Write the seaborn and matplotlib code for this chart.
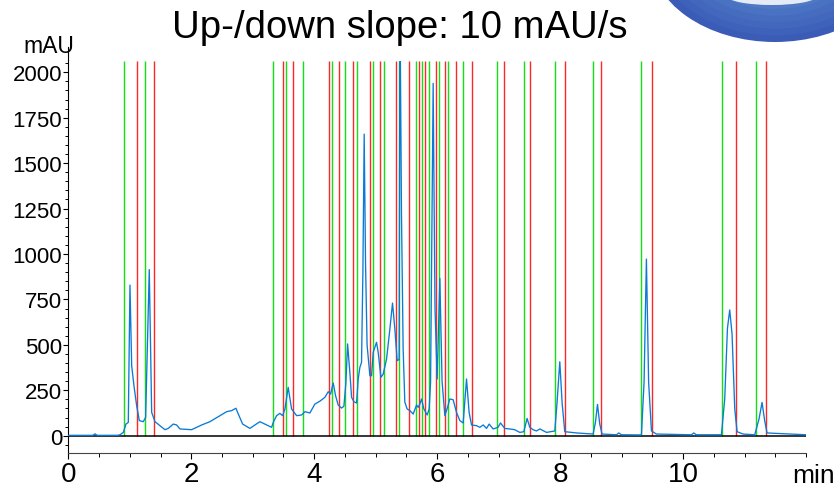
import numpy as np
import pandas as pd
import matplotlib
matplotlib.use("Agg")
import matplotlib.pyplot as plt
import seaborn as sns
from matplotlib.ticker import MultipleLocator
from matplotlib.patches import Ellipse
from matplotlib.colors import to_rgb

# Chromatogram trace: retention time (min) and detector signal (mAU)
time_min = [
    0.00, 0.40, 0.434, 0.47, 0.80, 0.841, 0.895, 0.938, 0.976, 1.003,
    1.031, 1.068, 1.112, 1.155, 1.22, 1.258, 1.317, 1.356, 1.41, 1.491,
    1.572, 1.626, 1.707, 1.762, 1.816, 2.006, 2.088, 2.17, 2.304, 2.467,
    2.575, 2.657, 2.727, 2.764, 2.836, 2.954, 3.036, 3.117, 3.198, 3.307,
    3.334, 3.388, 3.442, 3.486, 3.524, 3.577, 3.632, 3.714, 3.795, 3.849,
    3.930, 4.011, 4.093, 4.174, 4.228, 4.267, 4.309, 4.348, 4.39, 4.445,
    4.483, 4.516, 4.543, 4.58, 4.608, 4.646, 4.689, 4.716, 4.743, 4.77,
    4.792, 4.813, 4.835, 4.86, 4.906, 4.933, 4.96, 5.014, 5.041, 5.085,
    5.122, 5.177, 5.231, 5.274, 5.312, 5.35, 5.382, 5.395, 5.42, 5.447,
    5.474, 5.512, 5.556, 5.61, 5.665, 5.691, 5.719, 5.746, 5.784, 5.838,
    5.87, 5.893, 5.935, 5.965, 6.0, 6.044, 6.08, 6.125, 6.169, 6.206,
    6.26, 6.315, 6.369, 6.423, 6.478, 6.52, 6.559, 6.64, 6.695, 6.749,
    6.803, 6.846, 6.911, 6.99, 7.03, 7.1, 7.18, 7.26, 7.345, 7.41,
    7.463, 7.507, 7.56, 7.616, 7.67, 7.78, 7.914, 7.95, 7.995, 8.033,
    8.076, 8.27, 8.537, 8.575, 8.608, 8.645, 8.683, 8.917, 8.955, 8.998,
    9.323, 9.366, 9.404, 9.44, 9.486, 9.567, 10.136, 10.174, 10.217, 10.624,
    10.678, 10.722, 10.759, 10.797, 10.841, 10.879, 10.976, 11.166, 11.236, 11.285,
    11.328, 11.366, 12.0,
]
signal_mau = [
    2, 2, 10, 2, 2, 5, 18, 64, 73, 829,
    385, 275, 165, 83, 77, 101, 914, 128, 77, 55,
    33, 40, 64, 59, 37, 33, 46, 59, 77, 110,
    132, 138, 151, 120, 64, 40, 59, 77, 64, 46,
    73, 110, 123, 110, 147, 266, 147, 110, 114, 132,
    125, 174, 190, 211, 242, 229, 290, 220, 169, 152,
    162, 294, 505, 349, 211, 187, 180, 312, 376, 404,
    900, 1660, 950, 500, 330, 330, 459, 514, 459, 321,
    339, 422, 587, 730, 587, 413, 420, 2400, 1211, 477,
    185, 147, 138, 119, 169, 156, 174, 202, 147, 114,
    147, 294, 1939, 700, 312, 866, 300, 110, 156, 202,
    198, 128, 83, 70, 312, 128, 59, 55, 46, 59,
    40, 64, 37, 46, 70, 40, 37, 33, 18, 22,
    95, 46, 33, 26, 37, 18, 26, 180, 407, 180,
    22, 15, 9, 73, 172, 64, 9, 5, 15, 5,
    4, 295, 972, 295, 26, 9, 5, 15, 5, 5,
    202, 590, 692, 560, 147, 22, 9, 5, 92, 183,
    82, 15, 5,
]

# Integration events: peak start (up slope) and peak end (down slope)
peak_start = [0.907, 1.252, 3.323, 3.545, 3.821, 4.293, 4.494, 4.699, 4.959, 5.128,
              5.382, 5.649, 5.757, 5.865, 6.033, 6.179, 6.418, 6.966, 7.415, 7.925,
              8.537, 9.317, 10.64, 11.187]
peak_end = [1.112, 1.393, 3.491, 3.659, 4.234, 4.397, 4.634, 4.900, 5.073, 5.323,
            5.54, 5.702, 5.805, 5.979, 6.12, 6.304, 6.56, 7.09, 7.507, 8.072,
            8.667, 9.496, 10.857, 11.356]

y_ticks = [0, 250, 500, 750, 1000, 1250, 1500, 1750, 2000]
x_ticks = [0, 2, 4, 6, 8, 10]

title = "Up-/down slope: 10 mAU/s"
y_unit = "mAU"
x_unit = "min"

sns.set_style("white")
plt.rcParams["font.family"] = ["Liberation Sans", "DejaVu Sans"]
plt.rcParams["text.color"] = "black"

W, H = 834, 489
fig = plt.figure(figsize=(W / 100, H / 100), dpi=100)
ax = fig.add_axes([68.3 / W, 1 - 454.3 / H, (806 - 68.3) / W, (454.3 - 61.7) / H])

y_top = 2064
ax.set_xlim(0, 12)
ax.set_ylim(-97, y_top)

# event markers
ax.vlines(peak_start, 0, y_top, colors="#12e012", linewidth=1.0, zorder=2)
ax.vlines(peak_end, 0, y_top, colors="#ff2626", linewidth=1.0, zorder=2)
ax.axhline(0, color="black", linewidth=1.1, zorder=2.5)

df = pd.DataFrame({"time": time_min, "mAU": signal_mau})
sns.lineplot(data=df, x="time", y="mAU", ax=ax, color="#0a7ad6",
             linewidth=0.95, estimator=None, sort=False, zorder=3)
ax.set_xlabel("")
ax.set_ylabel("")

for side in ("top", "right"):
    ax.spines[side].set_visible(False)
ax.spines["left"].set_color("black")
ax.spines["left"].set_linewidth(0.8)
ax.spines["left"].set_bounds(-97, 2140)
ax.spines["bottom"].set_color("#444444")
ax.spines["bottom"].set_linewidth(0.8)

ax.set_yticks(y_ticks)
ax.set_xticks(x_ticks)
ax.yaxis.set_minor_locator(MultipleLocator(50))
ax.xaxis.set_minor_locator(MultipleLocator(0.5))
ax.tick_params(axis="y", which="major", left=True, length=3.8, width=0.8,
               direction="out", labelsize=16, pad=0.5, colors="black")
ax.tick_params(axis="y", which="minor", left=True, length=2.2, width=0.7,
               direction="out", colors="black")
ax.tick_params(axis="x", which="major", bottom=True, length=4.3, width=0.8,
               direction="out", labelsize=20, pad=1.5, colors="black")
ax.tick_params(axis="x", which="minor", bottom=True, length=2.9, width=0.7,
               direction="out", colors="black")

fig.text(400 / W, 1 - 38 / H, title, fontsize=27.5, ha="center", va="baseline")
fig.text(23 / W, 1 - 53 / H, y_unit, fontsize=16.5, ha="left", va="baseline")
fig.text(792 / W, 1 - 483.3 / H, x_unit, fontsize=19, ha="left", va="baseline")

# corner emblem: shaded disc built from concentric ellipses
rim = np.array(to_rgb("#3a5cb6"))
core = np.array(to_rgb("#8ccdf2"))
n_layers = 14
for i in range(n_layers):
    f = i / (n_layers - 1)
    s = 1 - 0.75 * f
    cy = -45 - 20 * f
    col = rim * (1 - f) ** 0.6 + core * (1 - (1 - f) ** 0.6)
    fig.add_artist(Ellipse((775 / W, 1 - cy / H), 250 * s / W, 176 * s / H,
                           transform=fig.transFigure, facecolor=col,
                           edgecolor="none", zorder=10))
fig.add_artist(Ellipse((772 / W, 1 - (-3) / H), 90 / W, 18 / H,
                       transform=fig.transFigure, facecolor="white",
                       edgecolor="none", alpha=0.85, zorder=11))

fig.savefig("out.png", dpi=100)
